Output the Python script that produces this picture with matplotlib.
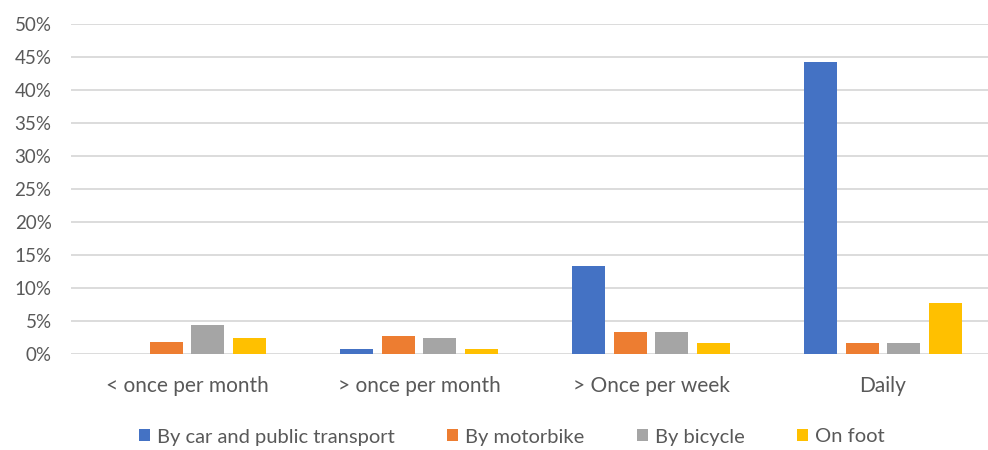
import numpy as np
import matplotlib.pyplot as plt
from matplotlib.ticker import PercentFormatter

categories = ["< once per month", "> once per month", "> Once per week", "Daily"]
series = ["By car and public transport", "By motorbike", "By bicycle", "On foot"]
car = [0.0, 0.8, 13.4, 44.2]
motorbike = [1.8, 2.7, 3.4, 1.7]
bicycle = [4.4, 2.5, 3.4, 1.7]
foot = [2.5, 0.8, 1.7, 7.8]
colors = ["#4472C4", "#ED7D31", "#A5A5A5", "#FFC000"]

plt.rcParams['font.family'] = ['Lato', 'DejaVu Sans']

fig = plt.figure(figsize=(9.88, 4.5), dpi=100)
ax = fig.add_axes([71 / 988, 1 - 354 / 450, 928 / 988, 330 / 450])

x = np.arange(len(categories))
width = 0.142
step = 0.179
for i, (vals, name, c) in enumerate(zip([car, motorbike, bicycle, foot], series, colors)):
    ax.bar(x + (i - 1.5) * step, vals, width, color=c, label=name, zorder=3)

ax.set_xlim(-0.5, 3.5)
ax.set_ylim(0, 50)
ax.set_yticks(np.arange(0, 51, 5))
ax.yaxis.set_major_formatter(PercentFormatter(decimals=0))
ax.grid(axis="y", color="#d9d9d9", linewidth=1.3, zorder=0)
for s in ax.spines.values():
    s.set_visible(False)
ax.tick_params(axis="both", length=0, colors="#595959")
ax.tick_params(axis="y", pad=14, labelsize=13.5)
ax.tick_params(axis="x", pad=16, labelsize=15)
ax.set_xticks(x)
ax.set_xticklabels(categories)

leg = fig.legend(loc="center", bbox_to_anchor=(512 / 988, 1 - 437 / 450), ncol=4,
                 frameon=False, fontsize=14.5, handlelength=0.55, handleheight=0.55,
                 handletextpad=0.35, columnspacing=2.6)
for t in leg.get_texts():
    t.set_color("#595959")

fig.savefig("out.png", dpi=100)
